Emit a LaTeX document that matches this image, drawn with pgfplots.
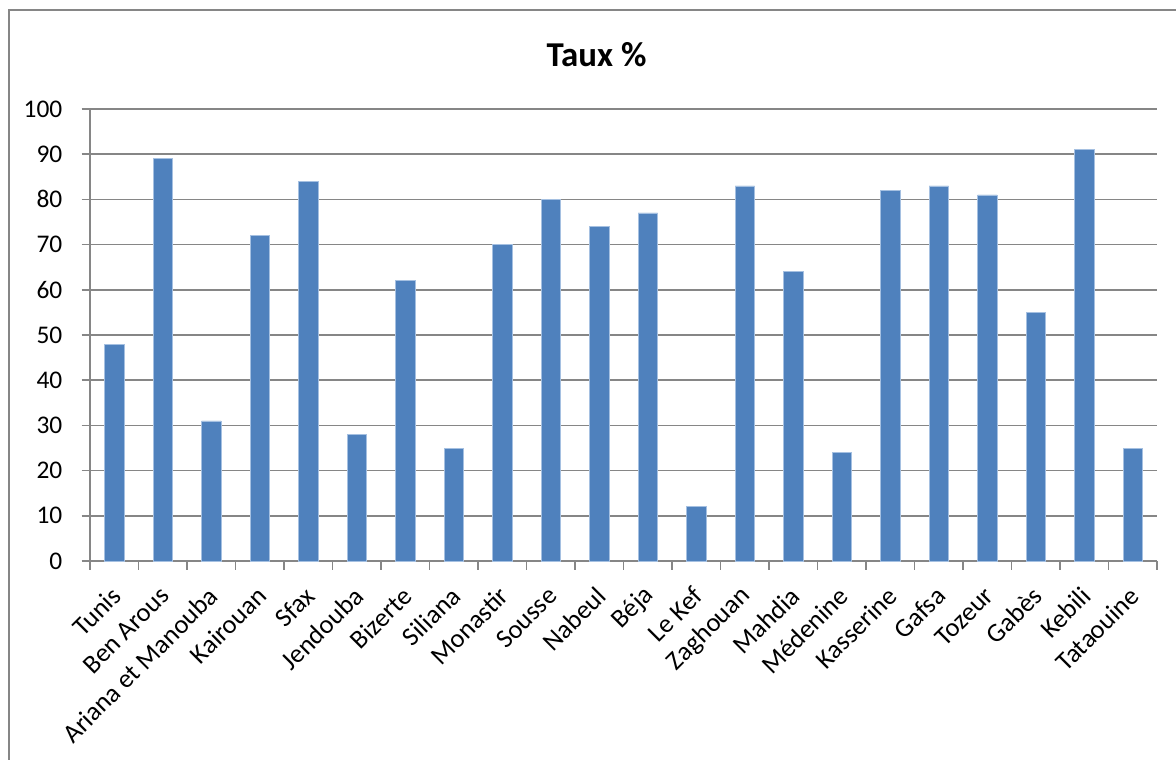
\documentclass[border=0pt]{standalone}
\usepackage{fontspec}
\setmainfont{Carlito}
\usepackage{pgfplots}
\pgfplotsset{compat=1.18}
\definecolor{barblue}{RGB}{79,129,189}
\definecolor{baredge}{RGB}{165,192,225}
\definecolor{gridgray}{RGB}{134,134,134}
\begin{document}
\begin{tikzpicture}
\useasboundingbox (0,0) rectangle (1176bp,-760bp);
\fill[white] (0,0) rectangle (1176bp,-760bp);
\draw[gridgray, line width=2bp] (8.5bp,-800bp) -- (8.5bp,-9.5bp) -- (1250bp,-9.5bp);
\node[anchor=base, font=\bfseries\fontsize{35}{42}\selectfont, inner sep=0pt] at (596.5bp,-66bp) {Taux \%};
\begin{axis}[
  at={(90bp,-561bp)}, anchor=south west,
  scale only axis, width=1067bp, height=452bp,
  xmin=-0.5, xmax=21.5, ymin=0, ymax=100,
  axis x line*=bottom, axis y line*=left,
  axis line style={gridgray, line width=1.5bp, -},
  ytick={0,10,...,100},
  ymajorgrids, grid style={gridgray, line width=1.5bp},
  xtick={0,1,...,21},
  xticklabels={Tunis,Ben Arous,Ariana et Manouba,Kairouan,Sfax,Jendouba,Bizerte,Siliana,Monastir,Sousse,Nabeul,Béja,Le Kef,Zaghouan,Mahdia,Médenine,Kasserine,Gafsa,Tozeur,Gabès,Kebili,Tataouine},
  minor xtick={-0.5,0.5,...,21.5},
  tick align=outside, major tick length=8.5bp, minor tick length=8.5bp,
  tick style={gridgray, line width=1.5bp},
  major x tick style={draw=none},
  /pgf/number format/assume math mode=true,
  yticklabel style={font=\fontsize{25.5}{30}\selectfont, anchor=east, inner sep=0pt, xshift=-19bp},
  xticklabel style={font=\fontsize{26.5}{31}\selectfont, xshift=2bp, yshift=-22bp, rotate=45, anchor=east, inner sep=0pt},
  clip=false,
]
\addplot[ybar, bar width=19.5bp, fill=barblue, draw=baredge, line width=0.6bp] coordinates {
 (0,48) (1,89) (2,31) (3,72) (4,84) (5,28) (6,62) (7,25) (8,70) (9,80) (10,74)
 (11,77) (12,12) (13,83) (14,64) (15,24) (16,82) (17,83) (18,81) (19,55) (20,91) (21,25)
};
\end{axis}
\end{tikzpicture}
\end{document}
